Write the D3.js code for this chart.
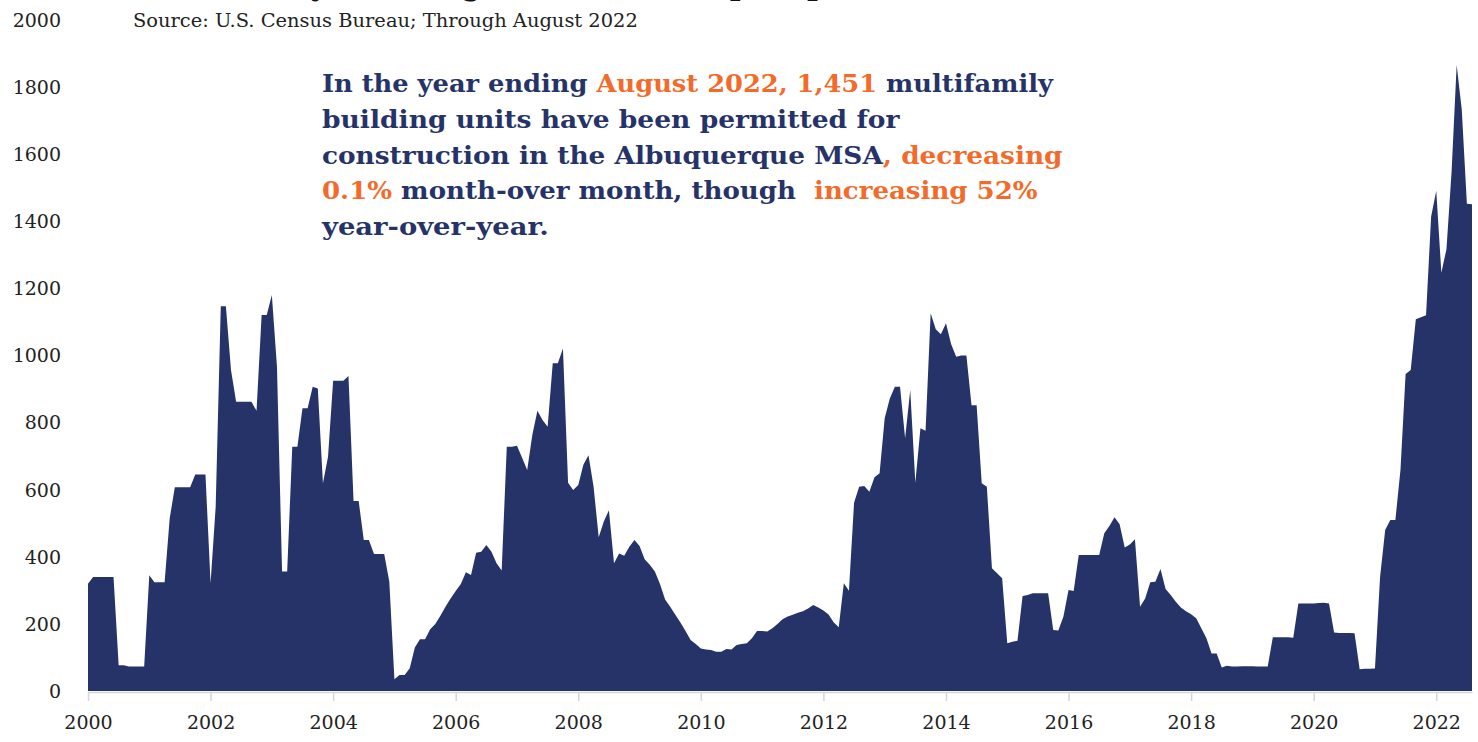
<!DOCTYPE html>
<html>
<head>
<meta charset="utf-8">
<script src="https://cdn.jsdelivr.net/npm/d3@7"></script>
<style>
  body { margin: 0; background: #fff; }
  svg { display: block; font-family: "DejaVu Serif", "Liberation Serif", serif; }
</style>
</head>
<body>
<div id="chart"></div>
<script>
// 12-month multifamily permits, Albuquerque MSA, monthly Jan 2000 .. Aug 2022
var startYear = 2000
var permits = [
  320, 340, 340, 340, 340, 340, 77, 77, 73, 73, 73, 73,            // 2000
  345, 324, 324, 324, 515, 607, 607, 607, 607, 645, 645, 645,       // 2001
  321, 549, 1147, 1147, 957, 862, 862, 862, 862, 835, 1121, 1121,   // 2002
  1180, 967, 356, 356, 728, 728, 843, 843, 907, 902, 619, 698,      // 2003
  925, 925, 925, 939, 566, 566, 450, 450, 408, 408, 408, 326,       // 2004
  35, 48, 48, 68, 130, 154, 154, 184, 200, 224, 251, 276,           // 2005
  298, 319, 354, 346, 412, 415, 435, 415, 381, 359, 728, 728,       // 2006
  731, 695, 659, 763, 835, 808, 788, 977, 977, 1021, 621, 599,      // 2007
  614, 674, 703, 609, 458, 505, 539, 381, 410, 403, 430, 450,       // 2008
  432, 393, 376, 356, 319, 273, 251, 227, 204, 179, 152, 140,       // 2009
  127, 124, 122, 117, 117, 125, 124, 137, 140, 142, 157, 179,       // 2010
  179, 177, 187, 200, 214, 222, 227, 233, 238, 246, 256, 249,       // 2011
  240, 228, 205, 190, 321, 299, 561, 609, 611, 594, 637, 649,       // 2012
  813, 872, 907, 907, 753, 897, 621, 783, 776, 1126, 1078, 1063,    // 2013
  1096, 1034, 996, 1000, 1000, 852, 852, 619, 609, 366, 351, 336,   // 2014
  142, 147, 150, 283, 286, 291, 291, 291, 291, 182, 180, 222,       // 2015
  301, 298, 405, 405, 405, 405, 405, 470, 492, 518, 497, 428,       // 2016
  437, 452, 251, 276, 324, 326, 364, 304, 286, 266, 249, 238,       // 2017
  229, 217, 187, 157, 112, 112, 70, 75, 73, 73, 74, 74,             // 2018
  74, 73, 73, 73, 160, 160, 160, 160, 159, 261, 261, 261,           // 2019
  261, 262, 263, 261, 174, 173, 173, 173, 172, 65, 66, 66,          // 2020
  67, 340, 480, 510, 510, 660, 945, 957, 1108, 1114, 1120, 1414,    // 2021
  1491, 1247, 1317, 1548, 1866, 1732, 1452, 1451                    // 2022
]
var yearTicks = [2000, 2002, 2004, 2006, 2008, 2010, 2012, 2014, 2016, 2018, 2020, 2022]
var valueTicks = [0, 200, 400, 600, 800, 1000, 1200, 1400, 1600, 1800, 2000]

var titleText = "Multifamily Building Permits, Albuquerque (12-mo)"
var sourceText = "Source: U.S. Census Bureau; Through August 2022"
// annotation lines, each is a list of [text, highlighted?]
var noteLine1 = [["In the year ending ", false], ["August 2022, 1,451", true], [" multifamily", false]]
var noteLine2 = [["building units have been permitted for", false]]
var noteLine3 = [["construction in the Albuquerque MSA", false], [", decreasing", true]]
var noteLine4 = [["0.1%", true], [" month-over month, though\u00a0 ", false], ["increasing 52%", true]]
var noteLine5 = [["year-over-year.", false]]

var width = 1478
var height = 742
var navy = "#263369"
var orange = "#f26b2a"

var svg = d3.select("#chart")
  .append("svg")
    .attr("width", width)
    .attr("height", height)

var x = d3.scaleLinear()
  .domain([0, permits.length - 1])
  .range([88, 1472])

var y = d3.scaleLinear()
  .domain([0, 2000])
  .range([691, 20])

// squeeze a text element horizontally so it spans the given width
function fitWidth(sel, left, baseline, target) {
  var w = sel.node().getComputedTextLength()
  sel.attr("x", 0).attr("y", 0)
    .attr("transform", "translate(" + left + "," + baseline + ") scale(" + (target / w) + ",1)")
}

// the title sits mostly above the page, only descenders show
var title = svg.append("text")
  .style("font-size", "40px")
  .style("font-weight", "bold")
  .attr("fill", "#111")
  .text(titleText)
fitWidth(title, 133, -7, 870)

var source = svg.append("text")
  .style("font-size", "19px")
  .attr("fill", "#222")
  .text(sourceText)
fitWidth(source, 133, 27, 505)

// the area
var area = d3.area()
  .x(function(d, i) { return x(i) })
  .y0(y(0))
  .y1(function(d) { return y(d) })

svg.append("path")
  .datum(permits)
  .attr("d", area)
  .attr("fill", navy)

// y labels only, no axis line
svg.selectAll(".ylab")
  .data(valueTicks)
  .enter()
  .append("text")
    .attr("class", "ylab")
    .attr("x", 61)
    .attr("y", function(d) { return y(d) })
    .attr("dy", "0.36em")
    .attr("text-anchor", "end")
    .attr("fill", "#222")
    .style("font-size", "19px")
    .text(function(d) { return d })

// x axis, one tick every two years
var xAxis = d3.axisBottom(x)
  .tickValues(yearTicks.map(function(yr) { return (yr - startYear) * 12 }))
  .tickFormat(function(d) { return startYear + d / 12 })
  .tickSizeInner(9)
  .tickSizeOuter(0)
  .tickPadding(15)

var gx = svg.append("g")
  .attr("transform", "translate(0," + (y(0) + 1) + ")")
  .call(xAxis)
gx.select(".domain").attr("stroke", "#d6d6d6").attr("stroke-width", 1.5)
gx.selectAll(".tick line").attr("stroke", "#d6d6d6").attr("stroke-width", 1.5)
gx.selectAll(".tick text")
  .attr("fill", "#222")
  .style("font-size", "19px")
  .style("font-family", "DejaVu Serif, Liberation Serif, serif")

// annotation block
var noteLines = [noteLine1, noteLine2, noteLine3, noteLine4, noteLine5]
var noteWidths = [731, 578, 741, 716, 227]
noteLines.forEach(function(parts, i) {
  var t = svg.append("text")
    .style("font-size", "25px")
    .style("font-weight", "bold")
  parts.forEach(function(p) {
    t.append("tspan")
      .attr("fill", p[1] ? orange : navy)
      .text(p[0])
  })
  fitWidth(t, 322, 92 + i * 35.8, noteWidths[i])
})
</script>
</body>
</html>
